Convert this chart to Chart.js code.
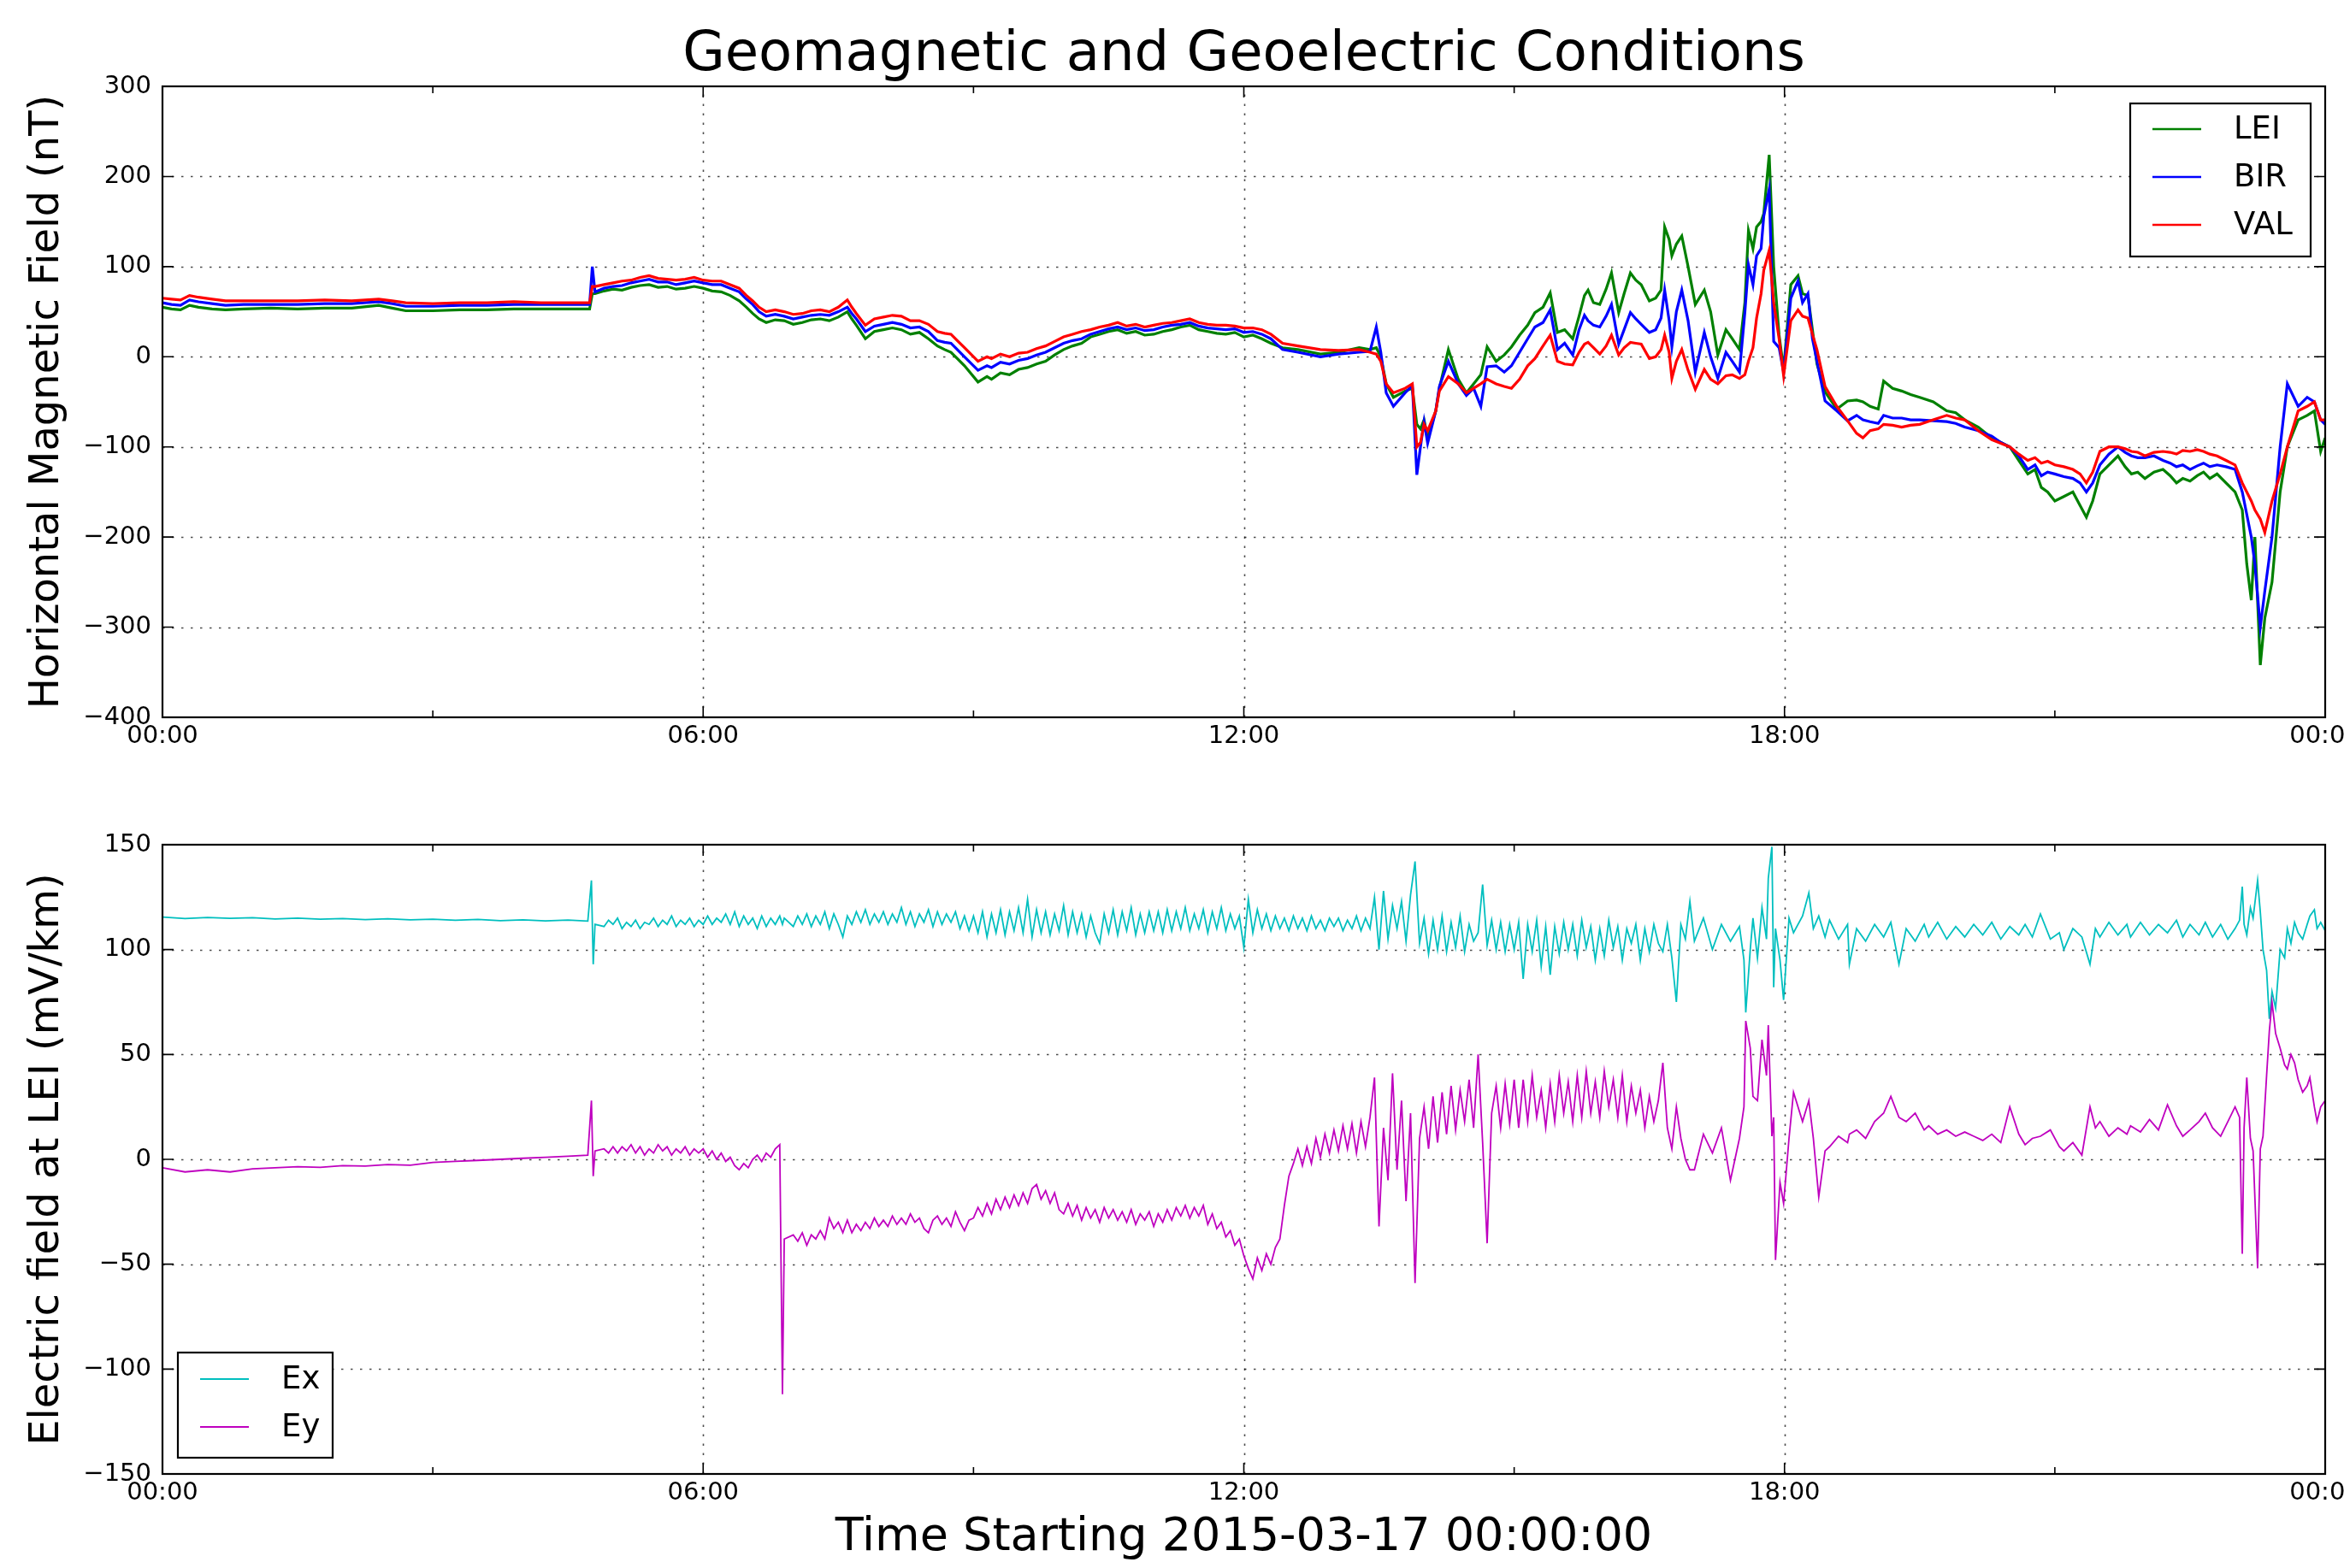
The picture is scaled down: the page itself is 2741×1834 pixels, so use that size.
<!DOCTYPE html>
<html><head><meta charset="utf-8">
<script src="https://cdn.jsdelivr.net/npm/chart.js@4.4.0/dist/chart.umd.min.js"></script>
<style>
html,body{margin:0;padding:0;background:#fff;overflow:hidden;}
#c1{position:absolute;left:0;top:0;}
#c2{position:absolute;left:0;top:912px;}
</style></head><body>
<canvas id="c1" width="2741" height="912"></canvas>
<canvas id="c2" width="2741" height="922"></canvas>
<script>
// ---------- DATA ----------
const xTickLabels = ['00:00', '06:00', '12:00', '18:00', '00:00'];

const magHours = [
  0.00,0.10,0.20,0.30,0.40,0.55,0.70,0.90,1.20,1.50,1.80,2.10,2.40,2.55,2.70,3.00,3.30,3.60,3.90,4.20,4.50,4.74,
  4.77,4.80,4.90,5.00,5.10,5.20,5.30,5.40,5.50,5.60,5.70,5.80,5.90,6.00,6.10,6.20,6.30,6.40,6.48,6.55,6.62,6.70,6.80,6.90,
  7.00,7.10,7.20,7.30,7.40,7.50,7.60,7.65,7.70,7.80,7.90,8.00,8.10,8.20,8.30,8.40,8.50,8.60,8.68,8.75,8.82,8.90,
  9.05,9.15,9.20,9.30,9.40,9.50,9.60,9.70,9.80,9.90,10.00,10.10,10.20,10.30,10.40,10.50,10.60,10.70,10.80,10.90,
  11.00,11.10,11.20,11.30,11.40,11.50,11.60,11.70,11.80,11.90,12.00,12.10,12.20,12.30,
  12.43,12.60,12.85,13.05,13.28,13.40,13.47,13.52,13.58,13.66,13.79,13.87,13.92,13.96,
  14.00,14.04,14.13,14.17,14.27,14.38,14.47,14.55,14.63,14.70,14.80,14.89,14.97,
  15.06,15.15,15.23,15.32,15.40,15.48,15.56,15.65,15.72,15.78,15.82,15.88,15.95,
  16.02,16.08,16.16,16.22,16.29,16.35,16.41,16.50,16.57,16.63,16.67,16.72,16.75,16.80,16.86,16.93,
  17.01,17.11,17.18,17.26,17.35,17.42,17.50,17.56,17.60,17.65,17.69,17.74,17.77,17.83,17.88,17.94,17.99,
  18.07,18.15,18.20,18.26,18.31,18.36,18.45,18.58,18.70,18.80,18.87,18.95,19.04,
  19.10,19.20,19.30,19.40,19.50,19.65,19.80,19.90,20.00,20.15,20.30,20.40,20.50,20.60,20.70,20.78,20.85,20.92,21.00,21.10,
  21.20,21.28,21.35,21.42,21.50,21.60,21.70,21.78,21.85,21.92,
  22.00,22.10,22.20,22.28,22.35,22.42,22.50,22.58,22.65,22.72,22.80,22.90,23.00,
  23.08,23.13,23.18,23.22,23.28,23.33,23.41,23.50,23.58,23.70,23.80,23.88,23.95,24.00
];
const lei = [
  55,53,52,57,55,53,52,53,54,53,54,54,57,54,51,51,52,52,53,53,53,53,
  70,70,73,75,74,77,79,80,77,78,75,76,78,76,73,72,68,62,55,48,42,38,41,40,
  36,38,41,42,40,44,50,42,35,20,28,30,32,30,25,27,20,12,8,5,-2,-10,
  -28,-22,-25,-18,-20,-14,-12,-8,-5,2,8,12,15,22,25,28,30,26,28,24,
  25,28,30,33,35,30,28,26,25,27,22,24,20,15,
  10,8,3,5,10,8,10,0,-30,-45,-38,-35,-75,-80,
  -70,-90,-60,-35,8,-25,-40,-30,-20,11,-5,2,11,
  24,35,49,55,71,27,30,20,45,68,74,60,58,
  75,93,49,70,93,85,80,62,65,74,144,130,112,125,134,100,
  58,74,50,2,30,20,8,60,140,120,144,150,159,224,100,24,-14,
  80,90,70,68,30,-8,-39,-58,-49,-48,-50,-55,-58,
  -27,-35,-38,-42,-45,-50,-60,-62,-70,-78,-90,-95,-100,-115,-130,-125,-145,-150,-160,-155,
  -150,-165,-178,-160,-130,-120,-110,-122,-130,-128,
  -135,-128,-125,-132,-140,-135,-138,-132,-128,-135,-130,-140,-150,
  -170,-230,-270,-200,-342,-290,-250,-150,-100,-70,-65,-60,-105,-90
];
const bir = [
  60,58,57,63,61,59,57,58,58,58,59,59,61,59,56,56,57,57,58,58,58,58,
  100,72,76,78,79,82,84,86,83,83,80,82,84,82,80,80,76,72,64,58,50,45,47,45,
  42,44,46,47,46,50,55,48,42,28,34,36,38,36,32,33,28,18,16,15,8,0,
  -15,-10,-12,-6,-8,-4,-2,2,5,10,15,18,20,25,28,31,33,30,32,29,
  30,33,35,36,38,34,32,31,30,31,27,28,25,20,
  8,5,0,3,5,6,33,5,-40,-55,-40,-32,-131,-100,
  -72,-96,-60,-33,-5,-30,-43,-35,-55,-11,-10,-17,-10,
  5,20,33,38,52,8,15,2,30,46,40,35,33,
  45,58,14,30,49,42,36,27,30,43,74,40,11,50,74,40,
  -17,27,0,-24,5,-5,-17,49,102,80,112,120,156,186,17,10,-17,
  65,84,60,70,20,-5,-49,-60,-71,-65,-70,-72,-74,
  -65,-68,-68,-70,-70,-71,-72,-74,-78,-82,-88,-95,-100,-110,-125,-120,-132,-128,-130,-133,
  -135,-140,-150,-140,-120,-108,-100,-106,-110,-112,
  -112,-110,-115,-118,-122,-120,-125,-121,-118,-122,-120,-122,-125,
  -150,-175,-200,-230,-300,-260,-200,-100,-30,-55,-45,-50,-70,-75
];
const val = [
  65,64,63,68,66,64,62,62,62,62,63,62,64,62,60,59,60,60,61,60,60,60,
  78,78,80,82,84,85,88,90,87,86,85,86,88,85,84,84,80,76,68,62,55,50,52,50,
  47,48,51,52,50,55,63,55,48,35,42,44,46,45,40,40,36,28,26,25,18,10,
  -5,0,-2,3,0,4,5,9,12,17,22,25,28,30,33,35,38,34,36,33,
  35,37,38,40,42,38,36,35,35,34,32,32,30,25,
  15,12,8,7,8,5,3,-5,-30,-40,-35,-30,-100,-95,
  -75,-82,-60,-38,-22,-30,-40,-35,-30,-25,-30,-33,-35,
  -25,-10,-2,12,24,-5,-8,-9,5,14,16,10,3,
  12,24,2,10,16,15,14,-2,0,8,24,5,-24,-5,8,-15,
  -36,-14,-25,-30,-21,-20,-24,-20,-5,10,43,70,96,118,60,20,-21,
  40,52,45,43,25,8,-33,-55,-71,-85,-90,-82,-80,
  -75,-76,-78,-76,-75,-70,-65,-68,-70,-82,-92,-96,-100,-108,-115,-112,-118,-116,-120,-122,
  -125,-130,-140,-128,-105,-100,-100,-102,-105,-106,
  -110,-106,-105,-106,-108,-104,-105,-103,-105,-108,-110,-115,-120,
  -140,-150,-160,-170,-180,-195,-160,-130,-100,-60,-55,-50,-70,-70
];

const eHours = [
  0,0.25,0.5,0.75,1.0,1.25,1.5,1.75,2.0,2.25,2.5,2.75,3.0,3.25,3.5,3.75,4.0,4.25,4.5,4.72,
  4.76,4.78,4.80,
  4.90,4.95,5.00,5.05,5.10,5.15,5.20,5.25,5.30,5.35,5.40,5.45,5.50,5.55,5.60,5.65,5.70,5.75,5.80,5.85,
  5.90,5.95,6.00,6.05,6.10,6.15,6.20,6.25,6.30,6.35,6.40,6.45,6.50,6.55,6.60,6.65,6.70,6.75,6.80,6.85,6.88,6.90,
  7.00,7.05,7.10,7.15,7.20,7.25,7.30,7.35,7.40,7.45,7.50,7.55,7.60,7.65,7.70,7.75,7.80,7.85,7.90,7.95,
  8.00,8.05,8.10,8.15,8.20,8.25,8.30,8.35,8.40,8.45,8.50,8.55,8.60,8.65,8.70,8.75,8.80,8.85,8.90,8.95,
  9.00,9.05,9.10,9.15,9.20,9.25,9.30,9.35,9.40,9.45,9.50,9.55,9.60,9.65,9.70,9.75,9.80,9.85,9.90,9.95,
  10.00,10.05,10.10,10.15,10.20,10.25,10.30,10.35,10.40,10.45,10.50,10.55,10.60,10.65,10.70,10.75,10.80,10.85,10.90,10.95,
  11.00,11.05,11.10,11.15,11.20,11.25,11.30,11.35,11.40,11.45,11.50,11.55,11.60,11.65,11.70,11.75,11.80,11.85,11.90,11.95,
  12.00,12.05,12.10,12.15,12.20,12.25,12.30,12.35,12.40,12.45,12.50,12.55,12.60,12.65,12.70,12.75,12.80,12.85,12.90,12.95,
  13.00,13.05,13.10,13.15,13.20,13.25,13.30,13.35,13.40,13.45,13.50,13.55,13.60,13.65,13.70,13.75,13.80,13.85,13.90,13.95,
  14.00,14.05,14.10,14.15,14.20,14.25,14.30,14.35,14.40,14.45,14.50,14.55,14.60,14.65,14.70,14.75,14.80,14.85,14.90,14.95,
  15.00,15.05,15.10,15.15,15.20,15.25,15.30,15.35,15.40,15.45,15.50,15.55,15.60,15.65,15.70,15.75,15.80,15.85,15.90,15.95,
  16.00,16.05,16.10,16.15,16.20,16.25,16.30,16.35,16.40,16.45,16.50,16.55,16.60,16.65,16.70,16.75,16.80,16.85,16.90,16.95,
  17.0,17.1,17.2,17.3,17.4,17.5,17.55,17.57,17.62,17.65,17.7,17.75,17.8,17.82,17.86,17.88,17.9,17.95,17.99,
  18.05,18.1,18.2,18.27,18.32,18.38,18.45,18.5,18.6,18.7,18.72,18.8,18.9,
  19.0,19.1,19.18,19.27,19.35,19.45,19.55,19.6,19.7,19.8,19.9,
  20.0,20.1,20.2,20.3,20.4,20.5,20.6,20.67,20.75,20.84,20.95,
  21.05,21.1,21.2,21.3,21.39,21.45,21.5,21.6,21.7,21.8,21.84,21.95,
  22.05,22.15,22.25,22.35,22.42,22.5,22.6,22.67,22.75,22.84,22.92,
  23.0,23.05,23.08,23.1,23.13,23.17,23.2,23.25,23.28,23.31,23.35,23.38,23.41,23.45,23.5,23.55,23.58,23.62,23.66,23.7,23.75,23.8,23.83,23.88,23.91,23.95,24.0
];
const ex = [
  115.5,114.8,115.3,114.9,115.2,114.6,115.0,114.5,114.8,114.3,114.7,114.2,114.5,114.0,114.4,113.8,114.2,113.7,114.1,113.6,
  133,93,112,
  111,114,112,115,110,113,111,114,110,113,112,115,111,114,112,116,111,114,112,115,
  111,114,112,116,112,115,113,117,112,118,111,116,112,115,110,116,111,115,112,116,112,115,
  111,116,112,117,111,116,112,118,110,117,112,106,116,112,118,113,119,112,117,113,
  118,112,117,113,120,112,118,111,117,113,119,111,118,112,117,113,118,110,116,109,
  116,108,118,106,117,108,119,107,118,109,120,108,124,106,119,108,118,107,117,109,
  121,107,118,108,117,106,116,108,103,117,108,119,107,118,109,120,107,117,108,118,
  109,118,108,119,109,118,110,120,109,117,110,119,108,118,110,120,109,117,110,116,
  101,124,108,119,110,117,109,116,110,115,109,116,110,115,109,116,110,114,109,115,
  111,115,109,114,110,116,109,115,110,125,100,128,105,121,110,123,104,126,142,103,
  115,98,114,100,116,99,113,101,116,99,112,104,108,131,102,114,100,113,99,112,
  100,113,86,112,99,114,92,111,88,111,98,113,100,112,97,114,101,111,95,110,
  97,114,101,111,95,110,103,112,95,110,99,112,103,99,112,96,75,112,105,123,
  104,115,100,112,104,111,95,70,100,115,96,120,105,134,149,82,110,95,76,
  115,108,116,127,110,116,106,114,105,112,93,110,104,
  112,106,113,93,110,104,112,106,113,105,111,
  106,112,107,113,105,111,107,112,106,117,105,
  108,100,110,106,93,110,106,113,107,112,106,113,
  107,112,108,114,106,112,107,113,106,112,105,
  110,114,130,112,107,120,115,133,118,100,90,67,80,72,100,96,110,103,113,108,105,112,116,119,110,113,109
];
const ey = [
  -4,-6,-5,-6,-4.5,-4,-3.5,-3.8,-3,-3.2,-2.5,-2.8,-1.5,-1,-0.5,0,0.5,1,1.5,2,
  28,-8,4,
  5,3,6,3,6,4,7,3,6,2,5,3,7,4,6,2,5,3,6,2,
  5,3,5,1,4,0,3,-1,1,-3,-5,-2,-4,0,2,-1,3,1,5,7,-112,-38,
  -36,-39,-35,-41,-36,-38,-34,-38,-28,-33,-30,-35,-29,-35,-31,-34,-30,-33,-28,-32,
  -29,-32,-27,-31,-28,-31,-26,-30,-28,-33,-35,-29,-27,-31,-28,-32,-25,-30,-34,-29,
  -28,-23,-27,-21,-26,-19,-24,-18,-23,-17,-22,-16,-21,-14,-12,-19,-15,-21,-16,-24,
  -26,-21,-27,-22,-29,-23,-28,-24,-30,-23,-28,-24,-29,-25,-30,-24,-31,-26,-29,-25,
  -32,-26,-30,-24,-29,-23,-27,-22,-28,-23,-27,-22,-31,-26,-33,-30,-37,-34,-41,-38,
  -46,-52,-57,-47,-53,-45,-50,-42,-38,-22,-8,-2,5,-3,6,-2,10,1,12,3,
  14,4,16,5,17,3,18,6,20,39,-32,15,-10,41,-5,28,-20,22,-59,10,
  25,5,30,8,32,12,35,14,33,18,38,15,50,8,-40,22,35,15,36,17,
  38,15,38,18,40,20,33,15,36,18,40,22,37,18,40,20,42,22,37,20,
  42,25,38,20,40,18,35,22,33,15,30,18,28,46,15,5,25,10,0,-5,
  -5,12,3,15,-10,10,25,66,53,30,28,57,40,64,11,20,-48,-11,-21,
  10,32,18,28,10,-18,4,6,11,8,12,14,10,
  18,22,30,20,18,22,14,16,12,14,11,
  13,11,9,12,8,25,12,7,10,11,14,
  6,4,8,2,25,15,18,11,15,12,16,13,
  19,14,26,16,11,14,18,22,15,11,18,
  25,20,-45,15,39,10,4,-52,5,11,40,61,75,60,53,45,43,50,46,38,32,35,39,25,18,25,28
];

// ---------- STYLE / HELPERS ----------
const FONT = 'DejaVu Sans';
Chart.defaults.font.family = FONT;
Chart.defaults.color = '#000';

[[magHours, lei, 'lei'], [magHours, bir, 'bir'], [magHours, val, 'val'], [eHours, ex, 'ex'], [eHours, ey, 'ey']]
  .forEach(([a, b, n]) => { if (a.length !== b.length) throw new Error('length mismatch ' + n + ' ' + a.length + ' vs ' + b.length); });

const toPts = (xs, ys) => xs.map((h, i) => ({x: h, y: ys[i]}));
const fmtY = v => (v < 0 ? '\u2212' + Math.abs(v) : String(v));
const fmtX = v => xTickLabels[Math.round(v / 6)] || '';

const mplAxes = {
  id: 'mplAxes',
  beforeDatasetsDraw(chart) {
    const {ctx, chartArea: a, scales: {x, y}} = chart;
    ctx.save();
    ctx.strokeStyle = 'rgba(0,0,0,0.7)';
    ctx.lineWidth = 1.6;
    ctx.setLineDash([2.5, 8.5]);
    x.ticks.forEach(t => {
      const px = Math.round(x.getPixelForValue(t.value)) + 0.5;
      if (px > a.left + 3 && px < a.right - 3) {
        ctx.beginPath(); ctx.moveTo(px, a.bottom); ctx.lineTo(px, a.top); ctx.stroke();
      }
    });
    y.ticks.forEach(t => {
      const py = Math.round(y.getPixelForValue(t.value)) + 0.5;
      if (py > a.top + 3 && py < a.bottom - 3) {
        ctx.beginPath(); ctx.moveTo(a.left, py); ctx.lineTo(a.right, py); ctx.stroke();
      }
    });
    ctx.restore();
  },
  afterDatasetsDraw(chart, args, opts) {
    const {ctx, chartArea: a, scales: {x, y}} = chart;
    ctx.save();
    ctx.strokeStyle = '#000';
    ctx.lineWidth = 1.6;
    const major = 13, minor = 8;
    const xt = x.ticks.map(t => t.value);
    xt.forEach((v, i) => {
      const px = x.getPixelForValue(v);
      ctx.beginPath();
      ctx.moveTo(px, a.bottom); ctx.lineTo(px, a.bottom - major);
      ctx.moveTo(px, a.top); ctx.lineTo(px, a.top + major);
      ctx.stroke();
      if (i < xt.length - 1) {
        const pm = x.getPixelForValue((v + xt[i + 1]) / 2);
        ctx.beginPath();
        ctx.moveTo(pm, a.bottom); ctx.lineTo(pm, a.bottom - minor);
        ctx.moveTo(pm, a.top); ctx.lineTo(pm, a.top + minor);
        ctx.stroke();
      }
    });
    y.ticks.forEach(t => {
      const py = y.getPixelForValue(t.value);
      ctx.beginPath();
      ctx.moveTo(a.left, py); ctx.lineTo(a.left + major, py);
      ctx.moveTo(a.right, py); ctx.lineTo(a.right - major, py);
      ctx.stroke();
    });
    ctx.lineWidth = 2.2;
    ctx.strokeRect(a.left, a.top, a.right - a.left, a.bottom - a.top);
    ctx.restore();

    // legend
    const L = opts.legend;
    if (!L) return;
    const bx = L.anchor === 'tr' ? a.right - L.dx - L.w : a.left + L.dx;
    const by = L.anchor === 'tr' ? a.top + L.dy : a.bottom - L.dy - L.h;
    ctx.save();
    ctx.fillStyle = '#fff';
    ctx.fillRect(bx, by, L.w, L.h);
    ctx.strokeStyle = '#000';
    ctx.lineWidth = 2.2;
    ctx.strokeRect(bx, by, L.w, L.h);
    ctx.font = L.fontSize + 'px ' + FONT;
    ctx.textBaseline = 'middle';
    ctx.textAlign = 'left';
    chart.data.datasets.forEach((ds, i) => {
      const ry = by + L.row0 + i * L.gap;
      ctx.strokeStyle = ds.borderColor;
      ctx.lineWidth = L.lineWidth;
      ctx.beginPath(); ctx.moveTo(bx + 26, ry); ctx.lineTo(bx + 83, ry); ctx.stroke();
      ctx.fillStyle = '#000';
      ctx.fillText(ds.label, bx + 121, ry + 1);
    });
    ctx.restore();
  }
};

function baseScales(yMin, yMax, yStep, yTitle, xHeight, xTitle) {
  const xs = {
    type: 'linear', min: 0, max: 24,
    ticks: {stepSize: 6, autoSkip: false, maxRotation: 0, padding: 5, color: '#000',
            font: {family: FONT, size: 29}, callback: fmtX},
    grid: {display: false, drawTicks: false},
    border: {display: false},
    afterFit(s) { s.height = xHeight; s.paddingLeft = 0; s.paddingRight = 0; }
  };
  if (xTitle) {
    xs.title = {display: true, text: xTitle, color: '#000',
                font: {family: FONT, size: 54, lineHeight: 1}, padding: {top: 0, bottom: 8}};
  }
  return {
    x: xs,
    y: {
      type: 'linear', min: yMin, max: yMax,
      ticks: {stepSize: yStep, padding: 13, color: '#000', font: {family: FONT, size: 29}, callback: fmtY},
      grid: {display: false, drawTicks: false},
      border: {display: false},
      title: {display: true, text: yTitle, color: '#000',
              font: {family: FONT, size: 48, lineHeight: 1}, padding: {top: 32, bottom: 0}},
      afterFit(s) { s.width = 190; s.paddingTop = 0; s.paddingBottom = 0; }
    }
  };
}

const common = {responsive: false, animation: false, devicePixelRatio: 1, events: []};

new Chart(document.getElementById('c1'), {
  type: 'line',
  data: {datasets: [
    {label: 'LEI', data: toPts(magHours, lei), borderColor: '#008000', borderWidth: 3.2, pointRadius: 0, tension: 0, fill: false, order: 2},
    {label: 'BIR', data: toPts(magHours, bir), borderColor: '#0000ff', borderWidth: 3.2, pointRadius: 0, tension: 0, fill: false, order: 1},
    {label: 'VAL', data: toPts(magHours, val), borderColor: '#ff0000', borderWidth: 3.2, pointRadius: 0, tension: 0, fill: false, order: 0}
  ]},
  options: Object.assign({}, common, {
    layout: {padding: {left: 0, right: 22, top: 0, bottom: 0}},
    plugins: {
      legend: {display: false}, tooltip: {enabled: false},
      title: {display: true, fullSize: false, text: 'Geomagnetic and Geoelectric Conditions', color: '#000',
              font: {family: FONT, size: 64, weight: 'normal', lineHeight: 1}, padding: {top: 33.5, bottom: 3.5}},
      mplAxes: {legend: {anchor: 'tr', dx: 17, dy: 20, w: 211, h: 179, row0: 30, gap: 56, fontSize: 37, lineWidth: 2.4}}
    },
    scales: baseScales(-400, 300, 100, 'Horizontal Magnetic Field (nT)', 73, null)
  }),
  plugins: [mplAxes]
});

new Chart(document.getElementById('c2'), {
  type: 'line',
  data: {datasets: [
    {label: 'Ex', data: toPts(eHours, ex), borderColor: '#00bfbf', borderWidth: 1.8, pointRadius: 0, tension: 0, fill: false, order: 1},
    {label: 'Ey', data: toPts(eHours, ey), borderColor: '#bf00bf', borderWidth: 1.8, pointRadius: 0, tension: 0, fill: false, order: 0}
  ]},
  options: Object.assign({}, common, {
    layout: {padding: {left: 0, right: 22, top: 76, bottom: 0}},
    plugins: {
      legend: {display: false}, tooltip: {enabled: false},
      mplAxes: {legend: {anchor: 'bl', dx: 18, dy: 19, w: 181, h: 123, row0: 31, gap: 56, fontSize: 37, lineWidth: 2.2}}
    },
    scales: baseScales(-150, 150, 50, 'Electric field at LEI (mV/km)', 110, 'Time Starting 2015-03-17 00:00:00')
  }),
  plugins: [mplAxes]
});
</script>
</body></html>
